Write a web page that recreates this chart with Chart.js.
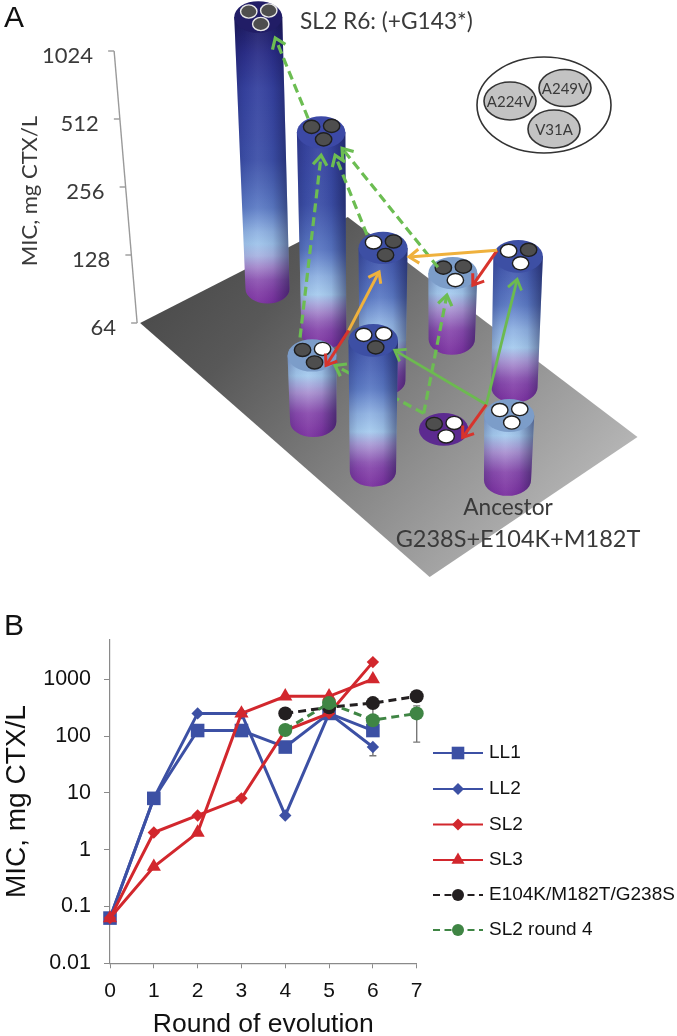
<!DOCTYPE html>
<html>
<head>
<meta charset="utf-8">
<style>
html,body{margin:0;padding:0;background:#fff;width:677px;height:1036px;overflow:hidden}
canvas{position:absolute;left:0;display:block}
#a{top:0}
#b{top:590px}
</style>
<script src="https://cdn.jsdelivr.net/npm/chart.js@4/dist/chart.umd.min.js"></script>
</head>
<body>
<canvas id="a" width="677" height="590"></canvas>
<canvas id="b" width="677" height="446"></canvas>
<script>
// ---------- Panel A data ----------
const floorCol = [0, 1, 2, 2, 3, 3, 2, 3, 4];
const floorRow = [0, 0, 0, 1, 1, -1, -1, 0, 0];
const micValues = [1024, 512, 256, 128, 256, 256, 128, 64, 128];
const genotypes = ['111', '111', '011', '110', '010', '001', '101', '100', '000'];
const micTicks = [64, 128, 256, 512, 1024];
const alleleNames = ['A224V', 'A249V', 'V31A'];
const floorCorners = [[-0.55, -1.48], [-0.32, 1.48], [4.37, 1.45], [4.55, -1.56]];
// [from cylinder, dx, dy, to cylinder, dx, dy, kind]
const moves = [
  [1, -13, -14, 0, 17, 21, 'dash'],
  [6, -12, -18, 1, 0, 23, 'dash'],
  [2, -16, -13, 1, 14, 23, 'dash'],
  [3, -15, -6, 1, 21, 16, 'dash'],
  [7, -20, -16, 3, -6, 22, 'dash'],
  [8, -23, -11, 5, 21.5, 10, 'solid'],
  [8, -23, -11, 4, -1, 23, 'solid'],
  [8, -23, -11, 7, 19, 8, 'red'],
  [4, -21, -6, 3, 20, 12, 'red'],
  [5, -24.5, -10, 6, 14, 10, 'red'],
  [4, -21, -6, 2, 26, 9, 'gold'],
  [5, -24.5, -10, 2, -4, 24, 'gold']
];
const hiddenMove = [7, -20, -16, 6, 23, 10, 'dash'];

// ---------- Panel B data ----------
const rounds = [0, 1, 2, 3, 4, 5, 6, 7];
const yTicksB = [0.01, 0.1, 1, 10, 100, 1000];
const LL1 = [0.0625, 8, 125, 125, 64, 250, 125];
const LL2 = [0.0625, 8, 250, 250, 4, 250, 64];
const SL2 = [0.0625, 2, 4, 8, 125, 250, 2000];
const SL3 = [0.0625, 0.5, 2, 250, 500, 500, 1000];
const tripleRounds = [4, 5, 6, 7];
const triple = [250, 320, 380, 500];
const sl2r4 = [128, 380, 190, 250];
const errLL2 = {x: 6, low: 45, high: 64};
const errTriple = {x: 6, low: 190, high: 380};
const errSl2r4 = {x: 7, low: 78, high: 340};

const BLUE = '#3c50a4', RED = '#d2272d', BLACK = '#231f20', GREEN = '#3f8544';
const SANS = '"Liberation Sans", Arial, sans-serif';
const LATO = 'Lato, sans-serif';
const LABEL = '#3a3a3a';

Chart.defaults.animation = false;

// ---------- Panel A ----------
const unitX = 55.2, unitY = 44, rowX = 66.5, rowY = -39.5, persp = 0.02;
const originX = 267.5, originDY = -34, perDoublingFactor = 0.012;
const colorRamp = [
  [0, '#7a2f9f'], [0.3, '#8a4cae'], [0.55, '#ab94d2'], [0.75, '#a6cbee'], [1.0, '#8fb2e2'],
  [1.35, '#5b79c4'], [2, '#3d50a8'], [3, '#36429f'], [3.5, '#2b2e88'], [4, '#1d1a5c']
];
const topColors = {64: '#5c2a90', 128: '#7c9dc9', 256: '#3d4fa4', 512: '#3c49a6', 1024: '#211d66'};

function hex(c) { return [1, 3, 5].map(i => parseInt(c.substr(i, 2), 16)); }
function rampAt(d) {
  for (let i = 1; i < colorRamp.length; i++) {
    if (d <= colorRamp[i][0]) {
      const [a, ca] = colorRamp[i - 1], [b, cb] = colorRamp[i];
      const t = (d - a) / (b - a), A = hex(ca), B = hex(cb);
      return 'rgb(' + A.map((v, k) => Math.round(v + (B[k] - v) * t)).join(',') + ')';
    }
  }
  return colorRamp[colorRamp.length - 1][1];
}
function project(chart, s, r) {
  const w = 1 - persp * s;
  return {
    x: chart.scales.x.getPixelForValue(s / w) + r * rowX / w,
    y: chart.scales.y.getPixelForValue(64) + originDY + (s * unitY + r * rowY) / w
  };
}
function cylinderGeom(chart, i) {
  const s = floorCol[i], r = floorRow[i], base = project(chart, s, r);
  const y = chart.scales.y;
  const d = Math.log2(micValues[i] / 64);
  const h = (y.getPixelForValue(64) - y.getPixelForValue(micValues[i])) * (1 - perDoublingFactor * s);
  const off = base.x - 360;
  const lean = off * d * (off < 0 ? 0.025 : 0.012);
  return {base, top: {x: base.x + lean, y: base.y - h}, d, h, rxT: 24 + 0.25 * s, rxB: 23 + 0.2 * s - d * 0.25};
}
function drawCylinder(ctx, chart, i) {
  const g = cylinderGeom(chart, i), {base, top, rxT, rxB} = g;
  const ryT = rxT * 0.66, ryB = rxB * 0.66;
  if (g.h > 1) {
    ctx.save();
    ctx.beginPath();
    ctx.moveTo(top.x - rxT, top.y);
    ctx.lineTo(base.x - rxB, base.y);
    ctx.ellipse(base.x, base.y, rxB, ryB, 0, Math.PI, 0, true);
    ctx.lineTo(top.x + rxT, top.y);
    ctx.closePath();
    const grad = ctx.createLinearGradient(0, base.y + ryB, 0, top.y);
    const N = 24;
    for (let k = 0; k <= N; k++) grad.addColorStop(k / N, rampAt(g.d * k / N));
    ctx.fillStyle = grad;
    ctx.fill();
    const left = Math.min(top.x - rxT, base.x - rxB), right = Math.max(top.x + rxT, base.x + rxB);
    const shade = ctx.createLinearGradient(left, 0, right, 0);
    shade.addColorStop(0, 'rgba(10,10,60,0.22)');
    shade.addColorStop(0.18, 'rgba(10,10,60,0.05)');
    shade.addColorStop(0.42, 'rgba(255,255,255,0.05)');
    shade.addColorStop(0.7, 'rgba(10,10,60,0.08)');
    shade.addColorStop(1, 'rgba(10,10,50,0.48)');
    ctx.fillStyle = shade;
    ctx.fill();
    ctx.restore();
  }
  ctx.beginPath();
  ctx.ellipse(top.x, top.y, rxT, ryT, 0, 0, Math.PI * 2);
  ctx.fillStyle = topColors[micValues[i]];
  ctx.fill();
  // the three allele sites on the top face
  const spots = [[-9.5, -5.5], [10.5, -6.5], [2.5, 7]];
  genotypes[i].split('').forEach((bit, k) => {
    ctx.beginPath();
    ctx.ellipse(top.x + spots[k][0], top.y + spots[k][1], 8.2, 6.6, 0, 0, Math.PI * 2);
    ctx.fillStyle = bit === '1' ? '#4e4e4e' : '#ffffff';
    ctx.fill();
    ctx.lineWidth = 1.4;
    ctx.strokeStyle = micValues[i] === 1024 ? '#e8e8e8' : '#1f1f1f';
    ctx.stroke();
  });
}
function drawMove(ctx, chart, m) {
  const styles = {
    dash: {c: '#6cbd52', w: 3.2, dash: [9, 5]},
    solid: {c: '#6cba50', w: 2.8, dash: []},
    red: {c: '#d8342c', w: 3, dash: []},
    gold: {c: '#efb13d', w: 3, dash: []}
  };
  const st = styles[m[6]];
  const a = cylinderGeom(chart, m[0]).top, b = cylinderGeom(chart, m[3]).top;
  const x1 = a.x + m[1], y1 = a.y + m[2], x2 = b.x + m[4], y2 = b.y + m[5];
  ctx.save();
  ctx.strokeStyle = st.c;
  ctx.lineWidth = st.w;
  ctx.setLineDash(st.dash);
  ctx.beginPath();
  ctx.moveTo(x1, y1);
  ctx.lineTo(x2, y2);
  ctx.stroke();
  ctx.setLineDash([]);
  const ang = Math.atan2(y2 - y1, x2 - x1), L = 12, W = 0.62;
  ctx.beginPath();
  ctx.moveTo(x2 - L * Math.cos(ang - W), y2 - L * Math.sin(ang - W));
  ctx.lineTo(x2, y2);
  ctx.lineTo(x2 - L * Math.cos(ang + W), y2 - L * Math.sin(ang + W));
  ctx.stroke();
  ctx.restore();
}
const panelA = {
  id: 'panelA',
  beforeDatasetsDraw(chart) {
    const ctx = chart.ctx, yS = chart.scales.y;
    ctx.save();
    // floor
    ctx.beginPath();
    floorCorners.forEach((c, i) => {
      const p = project(chart, c[0], c[1]);
      if (i) ctx.lineTo(p.x, p.y); else ctx.moveTo(p.x, p.y);
    });
    ctx.closePath();
    const fg = ctx.createLinearGradient(200, 250, 560, 560);
    fg.addColorStop(0, '#4c4c4c');
    fg.addColorStop(0.19, '#585858');
    fg.addColorStop(1, '#bababa');
    ctx.fillStyle = fg;
    ctx.fill();
    // slanted MIC axis
    const foot = project(chart, floorCorners[0][0], floorCorners[0][1]);
    const bottom = yS.getPixelForValue(64);
    const axX = y => foot.x - 3 - (bottom - y) * 23 / (bottom - yS.getPixelForValue(1024));
    ctx.strokeStyle = '#9a9a9a';
    ctx.lineWidth = 1.4;
    ctx.beginPath();
    ctx.moveTo(axX(bottom), bottom);
    ctx.lineTo(axX(yS.getPixelForValue(1024)), yS.getPixelForValue(1024));
    ctx.stroke();
    ctx.textAlign = 'right';
    ctx.textBaseline = 'middle';
    ctx.font = '22px ' + LATO;
    micTicks.forEach(v => {
      const y = yS.getPixelForValue(v), x = axX(y);
      ctx.strokeStyle = '#9a9a9a';
      ctx.beginPath();
      ctx.moveTo(x - 6, y);
      ctx.lineTo(x, y);
      ctx.stroke();
      ctx.fillStyle = LABEL;
      ctx.fillText(String(v), x - 21, y + 5);
    });
    // axis title
    ctx.save();
    ctx.translate(30, 191);
    ctx.rotate(-Math.PI / 2);
    ctx.textAlign = 'center';
    ctx.font = '22px ' + LATO;
    ctx.fillText('MIC, mg CTX/L', 0, 0);
    ctx.restore();
    // cylinders back to front
    [0, 1, 2, 3, 4, 6].forEach(i => drawCylinder(ctx, chart, i));
    drawMove(ctx, chart, hiddenMove);
    [5, 7, 8].forEach(i => drawCylinder(ctx, chart, i));
    moves.forEach(m => drawMove(ctx, chart, m));
    // annotations
    ctx.fillStyle = LABEL;
    ctx.textBaseline = 'alphabetic';
    ctx.textAlign = 'left';
    ctx.font = '22.7px ' + LATO;
    ctx.fillText('SL2 R6: (+G143*)', 300, 29);
    ctx.textAlign = 'center';
    ctx.fillText('Ancestor', 508, 515);
    ctx.font = '23.5px ' + LATO;
    ctx.fillText('G238S+E104K+M182T', 518, 547);
    // allele key
    ctx.lineWidth = 1.6;
    ctx.strokeStyle = '#333';
    ctx.beginPath();
    ctx.ellipse(544, 105, 67, 48, 0, 0, Math.PI * 2);
    ctx.fillStyle = '#fff';
    ctx.fill();
    ctx.stroke();
    const keyPos = [[510, 101, 26, 19], [565, 88, 26, 18.5], [554, 129, 26, 19]];
    ctx.font = '15px ' + LATO;
    ctx.textBaseline = 'middle';
    alleleNames.forEach((n, i) => {
      const k = keyPos[i];
      ctx.beginPath();
      ctx.ellipse(k[0], k[1], k[2], k[3], 0, 0, Math.PI * 2);
      ctx.fillStyle = '#c3c3c3';
      ctx.fill();
      ctx.stroke();
      ctx.fillStyle = LABEL;
      ctx.fillText(n, k[0], k[1] + 1);
    });
    // panel letter
    ctx.fillStyle = '#111';
    ctx.textAlign = 'left';
    ctx.textBaseline = 'alphabetic';
    ctx.font = '30px ' + SANS;
    ctx.fillText('A', 4, 27);
    ctx.restore();
  }
};
new Chart(document.getElementById('a'), {
  type: 'scatter',
  data: {datasets: [{
    label: 'MIC',
    data: floorCol.map((c, i) => ({x: c, y: micValues[i]})),
    pointRadius: 0, pointHoverRadius: 0, showLine: false
  }]},
  options: {
    responsive: false,
    layout: {padding: {top: 51, bottom: 267, left: 0, right: 0}},
    plugins: {legend: {display: false}, tooltip: {enabled: false}},
    events: [],
    scales: {
      x: {type: 'linear', display: false, min: -originX / unitX, max: (677 - originX) / unitX},
      y: {type: 'logarithmic', display: false, min: 64, max: 1024}
    }
  },
  plugins: [panelA]
});

// ---------- Panel B ----------
function pts(xs, ys) { return ys.map((v, i) => ({x: xs[i], y: v})); }
function series(label, xs, ys, color, style, radius, order, dashed) {
  return {
    label, data: pts(xs, ys), borderColor: color, backgroundColor: color, borderWidth: 3,
    borderDash: dashed ? [8, 5] : [], pointStyle: style, pointRadius: radius, pointBorderWidth: 0,
    pointBackgroundColor: color, tension: 0, clip: false, order
  };
}
const dsB = [
  series('LL1', rounds, LL1, BLUE, 'rect', 9.6, 5),
  series('LL2', rounds, LL2, BLUE, 'rectRot', 6.2, 6),
  series('SL2', rounds, SL2, RED, 'rectRot', 6.2, 4),
  series('SL3', rounds, SL3, RED, 'triangle', 8.2, 3),
  series('E104K/M182T/G238S', tripleRounds, triple, BLACK, 'circle', 7, 2, true),
  series('SL2 round 4', tripleRounds, sl2r4, GREEN, 'circle', 7, 1, true)
];
const legendYs = [753, 789, 824.5, 860, 895, 930];
const panelB = {
  id: 'panelB',
  beforeDatasetsDraw(chart) {
    const ctx = chart.ctx, xS = chart.scales.x, yS = chart.scales.y;
    ctx.save();
    ctx.strokeStyle = '#777';
    ctx.lineWidth = 1.4;
    [errLL2, errTriple, errSl2r4].forEach(e => {
      const x = xS.getPixelForValue(e.x), lo = yS.getPixelForValue(e.low), hi = yS.getPixelForValue(e.high);
      ctx.beginPath();
      ctx.moveTo(x, lo); ctx.lineTo(x, hi);
      ctx.moveTo(x - 3.5, lo); ctx.lineTo(x + 3.5, lo);
      ctx.moveTo(x - 3.5, hi); ctx.lineTo(x + 3.5, hi);
      ctx.stroke();
    });
    ctx.restore();
  },
  afterDraw(chart) {
    const ctx = chart.ctx, top = 590;
    ctx.save();
    dsB.forEach((d, i) => {
      const y = legendYs[i] - top;
      ctx.strokeStyle = d.borderColor;
      ctx.lineWidth = 2.2;
      ctx.setLineDash(d.borderDash.length ? [7, 4.5] : []);
      ctx.beginPath();
      ctx.moveTo(433, y);
      ctx.lineTo(483, y);
      ctx.stroke();
      ctx.setLineDash([]);
      const r = d.pointStyle === 'triangle' ? 7.5 : 6;
      ctx.fillStyle = d.borderColor;
      ctx.beginPath();
      if (d.pointStyle === 'circle') ctx.arc(458, y, r, 0, Math.PI * 2);
      else if (d.pointStyle === 'rect') ctx.rect(458 - 6.3, y - 6.3, 12.6, 12.6);
      else if (d.pointStyle === 'rectRot') { ctx.moveTo(458 - r, y); ctx.lineTo(458, y - r); ctx.lineTo(458 + r, y); ctx.lineTo(458, y + r); ctx.closePath(); }
      else { ctx.moveTo(458, y - r); ctx.lineTo(458 + r * 0.87, y + r / 2); ctx.lineTo(458 - r * 0.87, y + r / 2); ctx.closePath(); }
      ctx.fill();
      ctx.fillStyle = '#111';
      ctx.font = '19px ' + SANS;
      ctx.textAlign = 'left';
      ctx.textBaseline = 'middle';
      ctx.fillText(d.label, 489, y);
    });
    ctx.font = '30px ' + SANS;
    ctx.textBaseline = 'alphabetic';
    ctx.fillStyle = '#111';
    ctx.fillText('B', 4, 45);
    ctx.restore();
  }
};
new Chart(document.getElementById('b'), {
  type: 'line',
  data: {datasets: dsB},
  options: {
    responsive: false,
    layout: {padding: {top: 50, right: 260.3, left: 0, bottom: 0}},
    plugins: {legend: {display: false}, tooltip: {enabled: false}},
    events: [],
    scales: {
      x: {
        type: 'linear', min: 0, max: 7, offset: false,
        afterBuildTicks: s => { s.ticks = rounds.map(v => ({value: v})); },
        afterFit: s => { s.height = 72.7; },
        ticks: {font: {family: SANS, size: 21}, color: '#111', padding: 10, maxRotation: 0, autoSkip: false,
          callback: v => String(v)},
        grid: {drawOnChartArea: false, drawTicks: true, tickLength: 5, color: '#8a8a8a', lineWidth: 1},
        border: {color: '#8a8a8a', width: 1.2},
        title: {display: true, text: 'Round of evolution', font: {family: SANS, size: 26.5}, color: '#111',
          padding: {top: 0, bottom: -5}}
      },
      y: {
        type: 'logarithmic', min: 0.01, max: 4900,
        afterBuildTicks: s => { s.ticks = yTicksB.map(v => ({value: v, major: true})); },
        afterFit: s => { s.width = 110; },
        ticks: {font: {family: SANS, size: 21.5}, color: '#111', padding: 13, autoSkip: false,
          callback: v => String(v)},
        grid: {drawOnChartArea: false, drawTicks: true, tickLength: 6, color: '#8a8a8a', lineWidth: 1},
        border: {color: '#8a8a8a', width: 1.2},
        title: {display: true, text: 'MIC, mg CTX/L', font: {family: SANS, size: 28}, color: '#111',
          padding: {top: 0, bottom: 0}}
      }
    }
  },
  plugins: [panelB]
});
</script>
</body>
</html>
